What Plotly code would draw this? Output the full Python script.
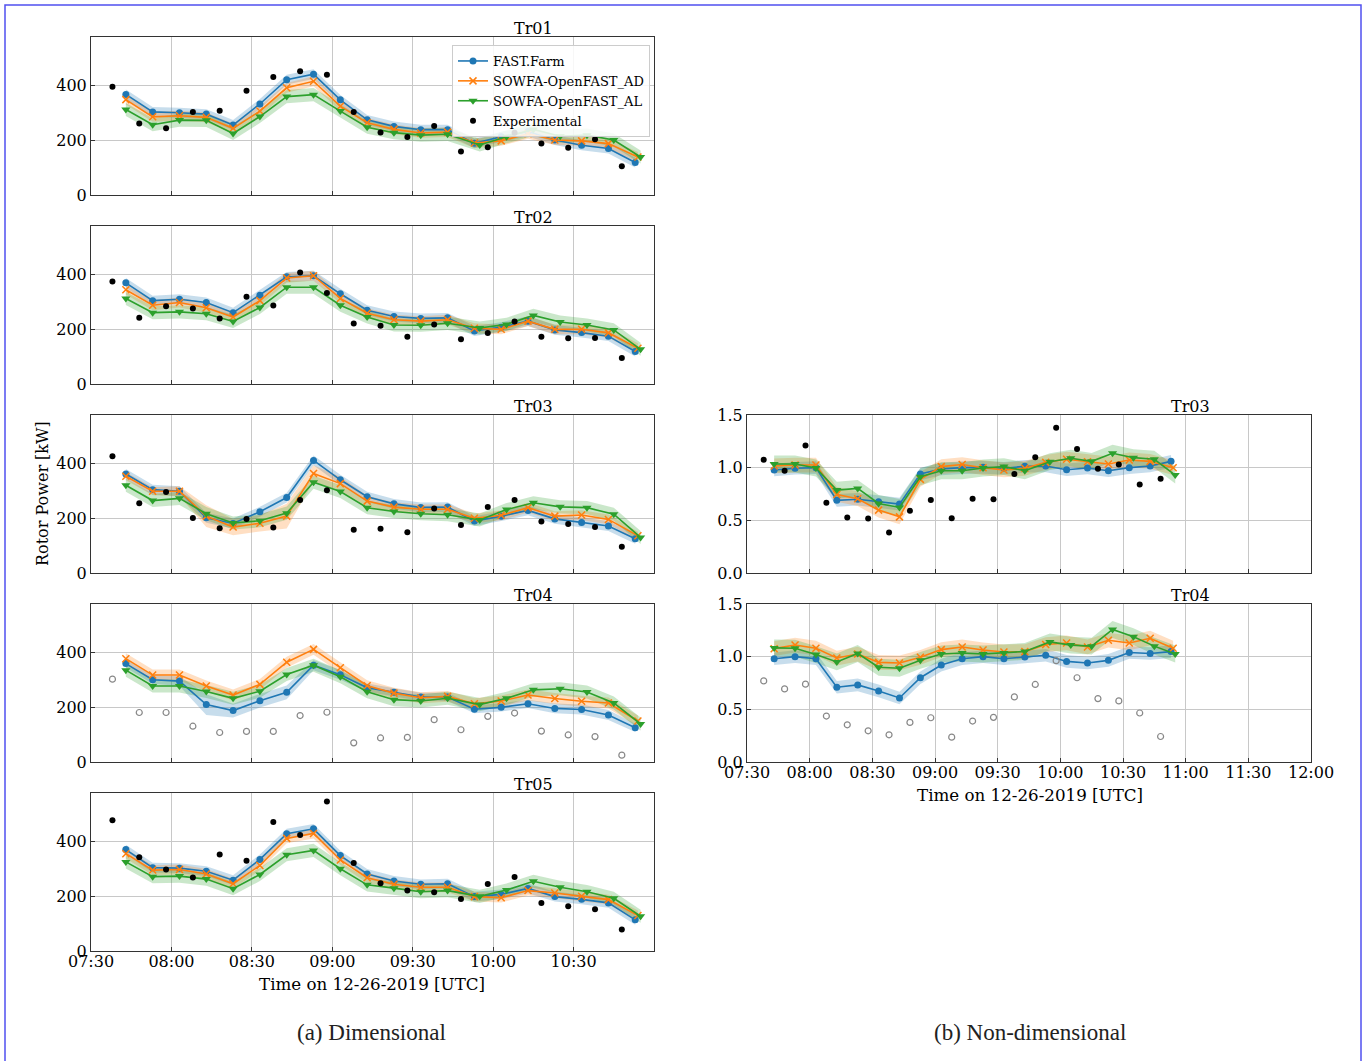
import plotly.graph_objects as go

# ---------------- data ----------------
DATE = "2019-12-26 "
model_times = ["07:43", "07:53", "08:03", "08:13", "08:23", "08:33", "08:43", "08:53", "09:03", "09:13",
               "09:23", "09:33", "09:43", "09:53", "10:03", "10:13", "10:23", "10:33", "10:43", "10:53"]
ad_times = ["07:43", "07:53", "08:03", "08:13", "08:23", "08:33", "08:43", "08:53", "09:03", "09:13",
            "09:23", "09:33", "09:43", "09:53", "10:03", "10:13", "10:23", "10:33", "10:43", "10:54"]
al_times = ["07:43", "07:53", "08:03", "08:13", "08:23", "08:33", "08:43", "08:53", "09:03", "09:13",
            "09:23", "09:33", "09:43", "09:55", "10:05", "10:15", "10:25", "10:35", "10:45", "10:55"]
exp_times = ["07:38", "07:48", "07:58", "08:08", "08:18", "08:28", "08:38", "08:48", "08:58", "09:08",
             "09:18", "09:28", "09:38", "09:48", "09:58", "10:08", "10:18", "10:28", "10:38", "10:48"]

# Dimensional rotor power [kW]
tr01_ff = [368, 304, 301, 296, 256, 333, 422, 442, 348, 275, 251, 239, 239, 189, 213, 232, 201, 182, 170, 119]
tr01_ad = [349, 286, 290, 284, 244, 307, 392, 416, 325, 264, 240, 227, 230, 190, 198, 224, 201, 198, 188, 139]
tr01_al = [313, 257, 274, 273, 225, 287, 360, 367, 307, 248, 228, 219, 222, 183, 213, 240, 215, 219, 201, 139]
tr01_exp = [396, 262, 244, 304, 308, 381, 432, 453, 440, 304, 229, 212, 252, 159, 175, 228, 188, 173, 204, 105]

tr02_ff = [370, 305, 310, 298, 261, 325, 392, 396, 330, 270, 247, 240, 242, 194, 208, 230, 198, 188, 175, 119]
tr02_ad = [345, 288, 298, 279, 245, 305, 388, 396, 313, 259, 235, 230, 235, 204, 200, 230, 200, 200, 187, 131]
tr02_al = [313, 261, 264, 257, 229, 280, 354, 354, 288, 245, 216, 215, 222, 205, 218, 251, 227, 216, 198, 127]
tr02_exp = [375, 242, 284, 276, 240, 319, 287, 408, 333, 221, 213, 173, 218, 164, 187, 229, 173, 167, 168, 95]

tr03_ff = [362, 305, 299, 202, 181, 224, 276, 412, 341, 279, 253, 240, 241, 190, 208, 229, 198, 185, 172, 125]
tr03_ad = [354, 299, 299, 208, 168, 182, 208, 364, 327, 263, 241, 233, 233, 200, 211, 239, 208, 212, 196, 136]
tr03_al = [321, 265, 273, 217, 183, 191, 219, 332, 298, 239, 225, 217, 213, 194, 232, 257, 242, 239, 215, 130]
tr03_exp = [427, 255, 296, 201, 164, 198, 166, 267, 303, 158, 162, 149, 236, 176, 241, 267, 188, 179, 168, 96]

tr04_ff = [360, 301, 296, 210, 188, 224, 255, 354, 319, 272, 255, 238, 238, 193, 200, 213, 196, 192, 172, 125]
tr04_ad = [378, 318, 318, 278, 245, 284, 365, 412, 345, 279, 252, 235, 240, 213, 223, 245, 232, 222, 216, 150]
tr04_al = [336, 278, 278, 258, 233, 259, 320, 354, 312, 257, 228, 223, 233, 210, 233, 264, 268, 256, 216, 139]
tr04_exp = [303, 181, 181, 131, 108, 112, 112, 170, 182, 70, 88, 90, 155, 118, 167, 179, 113, 99, 93, 25]

tr05_ff = [371, 305, 303, 292, 259, 335, 429, 447, 349, 282, 256, 244, 246, 199, 207, 229, 199, 189, 176, 114]
tr05_ad = [356, 296, 298, 282, 246, 313, 412, 430, 333, 268, 244, 233, 233, 199, 195, 221, 212, 200, 188, 130]
tr05_al = [326, 272, 274, 263, 228, 280, 352, 368, 301, 242, 230, 217, 221, 200, 223, 255, 233, 217, 193, 127]
tr05_exp = [478, 343, 298, 269, 353, 330, 472, 424, 547, 322, 248, 221, 215, 190, 245, 271, 176, 164, 153, 79]

# Non-dimensional
nd03_ff = [0.978, 0.994, 1.0, 0.69, 0.70, 0.676, 0.654, 0.94, 0.987, 1.0, 1.003, 0.994, 1.013, 1.016, 0.98,
           0.997, 0.971, 1.0, 1.016, 1.06]
nd03_ad = [1.016, 1.025, 1.025, 0.746, 0.705, 0.597, 0.533, 0.889, 1.01, 1.03, 1.0, 0.978, 0.994, 1.05, 1.08,
           1.057, 1.035, 1.073, 1.06, 1.0]
nd03_al = [1.035, 1.035, 0.997, 0.787, 0.803, 0.66, 0.622, 0.914, 0.971, 0.971, 0.997, 1.01, 0.971, 1.057, 1.09,
           1.06, 1.137, 1.095, 1.08, 0.93]
nd03_exp = [1.076, 0.971, 1.21, 0.667, 0.527, 0.517, 0.384, 0.59, 0.692, 0.52, 0.705, 0.70, 0.94, 1.098, 1.378,
            1.178, 0.99, 1.03, 0.84, 0.895]

nd04_ff = [0.98, 1.0, 0.98, 0.71, 0.732, 0.675, 0.608, 0.8, 0.92, 0.98, 1.0, 0.98, 0.997, 1.013, 0.955, 0.94,
           0.965, 1.04, 1.03, 1.048]
nd04_ad = [1.076, 1.11, 1.08, 0.987, 1.025, 0.946, 0.94, 0.994, 1.067, 1.092, 1.064, 1.045, 1.048, 1.115, 1.13,
           1.092, 1.156, 1.13, 1.175, 1.08]
nd04_al = [1.083, 1.08, 1.02, 0.95, 1.03, 0.9, 0.89, 0.965, 1.025, 1.035, 1.025, 1.035, 1.05, 1.14, 1.11, 1.1,
           1.258, 1.19, 1.1, 1.025]
nd04_exp = [0.77, 0.694, 0.739, 0.436, 0.353, 0.296, 0.258, 0.376, 0.42, 0.236, 0.389, 0.424, 0.618, 0.736, 0.962,
            0.8, 0.602, 0.58, 0.465, 0.242]

# band half-widths (ff, ad, al)
band_dim = [18, 18, 24]
band_tr03_ad = [15, 15, 18, 40, 30, 30, 45, 30, 25, 20, 18, 18, 18, 18, 18, 18, 18, 18, 18, 15]
band_tr04_ff = [15, 15, 18, 38, 25, 25, 25, 18, 18, 15, 15, 15, 15, 15, 15, 15, 18, 18, 18, 15]
band_nd = [0.06, 0.07, 0.08]

left_ticks = ["07:30", "08:00", "08:30", "09:00", "09:30", "10:00", "10:30"]
right_ticks = ["07:30", "08:00", "08:30", "09:00", "09:30", "10:00", "10:30", "11:00", "11:30", "12:00"]

series_names = ["FAST.Farm", "SOWFA-OpenFAST_AD", "SOWFA-OpenFAST_AL", "Experimental"]

# ---------------- layout helpers ----------------
W, H = 1368, 1061
FONT = "DejaVu Serif"
COLORS = ["#1f77b4", "#ff7f0e", "#2ca02c"]
FILLS = ["rgba(31,119,180,0.25)", "rgba(255,127,14,0.25)", "rgba(44,160,44,0.25)"]


def fx(p):
    return p / W


def fy(p):
    return 1 - p / H


def T(lst):
    return [DATE + t for t in lst]


fig = go.Figure()

left_tops = [37, 226, 415, 604, 793]
right_tops = [415, 604]
PH = 158

panels = [
    (1, "L", "Tr01", tr01_ff, tr01_ad, tr01_al, tr01_exp, band_dim, False),
    (2, "L", "Tr02", tr02_ff, tr02_ad, tr02_al, tr02_exp, band_dim, False),
    (3, "L", "Tr03", tr03_ff, tr03_ad, tr03_al, tr03_exp, [18, band_tr03_ad, 24], False),
    (4, "L", "Tr04", tr04_ff, tr04_ad, tr04_al, tr04_exp, [band_tr04_ff, 20, 24], True),
    (5, "L", "Tr05", tr05_ff, tr05_ad, tr05_al, tr05_exp, band_dim, False),
    (6, "R", "Tr03", nd03_ff, nd03_ad, nd03_al, nd03_exp, band_nd, False),
    (7, "R", "Tr04", nd04_ff, nd04_ad, nd04_al, nd04_exp, band_nd, True),
]

times_list = [model_times, ad_times, al_times]
markers = [
    dict(symbol="circle", size=7),
    dict(symbol="x-thin", size=7),
    dict(symbol="triangle-down", size=8),
]

annotations = []
for idx, side, title, ff, ad, al, exp, bands, exp_open in panels:
    xa = "x" if idx == 1 else f"x{idx}"
    ya = "y" if idx == 1 else f"y{idx}"
    vals = [ff, ad, al]
    for k in range(3):
        b = bands[k]
        bw = b if isinstance(b, list) else [b] * len(vals[k])
        up = [v + w for v, w in zip(vals[k], bw)]
        lo = [v - w for v, w in zip(vals[k], bw)]
        tt = T(times_list[k])
        fig.add_trace(go.Scatter(x=tt + tt[::-1], y=up + lo[::-1], fill="toself", fillcolor=FILLS[k],
                                 line=dict(width=0), mode="lines", hoverinfo="skip", showlegend=False,
                                 xaxis=xa, yaxis=ya))
    for k in range(3):
        mk = dict(markers[k], color=COLORS[k])
        if k == 1:
            mk["line"] = dict(color=COLORS[k], width=1.5)
        fig.add_trace(go.Scatter(x=T(times_list[k]), y=vals[k], mode="lines+markers",
                                 line=dict(color=COLORS[k], width=1.6), marker=mk,
                                 name=series_names[k], showlegend=(idx == 1), xaxis=xa, yaxis=ya))
    if exp_open:
        emk = dict(symbol="circle-open", size=6, color="#888888", line=dict(width=1.2, color="#888888"))
    else:
        emk = dict(symbol="circle", size=6, color="black")
    fig.add_trace(go.Scatter(x=T(exp_times), y=exp, mode="markers", marker=emk, name=series_names[3],
                             showlegend=(idx == 1), xaxis=xa, yaxis=ya))

    if side == "L":
        top = left_tops[idx - 1]
        xdom = [fx(91), fx(654)]
        xr = [DATE + "07:30", DATE + "11:00"]
        tv = T(left_ticks)
        tl = left_ticks
        showlab = idx == 5
        yr = [0, 578]
        ytv = [0, 200, 400]
        ytt = ["0", "200", "400"]
        tx = 533
    else:
        top = right_tops[idx - 6]
        xdom = [fx(747), fx(1311)]
        xr = [DATE + "07:30", DATE + "12:00"]
        tv = T(right_ticks)
        tl = right_ticks
        showlab = idx == 7
        yr = [0, 1.5]
        ytv = [0, 0.5, 1.0, 1.5]
        ytt = ["0.0", "0.5", "1.0", "1.5"]
        tx = 1190
    ydom = [fy(top + PH), fy(top)]
    axstyle = dict(showgrid=True, gridcolor="#c8c8c8", gridwidth=1, showline=True, linecolor="#333333",
                   linewidth=1, mirror=True, ticks="inside", ticklen=4, tickcolor="#333333", zeroline=False,
                   automargin=False, tickfont=dict(family=FONT, size=16, color="black"))
    fig.layout[xa.replace("x", "xaxis")] = dict(axstyle, domain=xdom, anchor=ya, type="date", range=xr,
                                                 tickvals=tv, ticktext=tl, showticklabels=showlab,
                                                 ticklabelstandoff=-4)
    fig.layout[ya.replace("y", "yaxis")] = dict(axstyle, domain=ydom, anchor=xa, range=yr,
                                                 tickvals=ytv, ticktext=ytt)
    annotations.append(dict(text=title, x=fx(tx), y=fy(top + 3), xref="paper", yref="paper",
                            xanchor="center", yanchor="bottom", showarrow=False,
                            font=dict(family=FONT, size=16, color="black")))

annotations += [
    dict(text="Rotor Power [kW]", x=fx(42), y=fy(494), xref="paper", yref="paper", textangle=-90,
         showarrow=False, xanchor="center", yanchor="middle", font=dict(family=FONT, size=16, color="black")),
    dict(text="Time on 12-26-2019 [UTC]", x=fx(372), y=fy(984), xref="paper", yref="paper", showarrow=False,
         xanchor="center", yanchor="middle", font=dict(family=FONT, size=16.7, color="black")),
    dict(text="Time on 12-26-2019 [UTC]", x=fx(1030), y=fy(795), xref="paper", yref="paper", showarrow=False,
         xanchor="center", yanchor="middle", font=dict(family=FONT, size=16.7, color="black")),
    dict(text="(a) Dimensional", x=fx(371), y=fy(1032), xref="paper", yref="paper", showarrow=False,
         xanchor="center", yanchor="middle", font=dict(family="Liberation Serif", size=23, color="#222")),
    dict(text="(b) Non-dimensional", x=fx(1030), y=fy(1032), xref="paper", yref="paper", showarrow=False,
         xanchor="center", yanchor="middle", font=dict(family="Liberation Serif", size=23, color="#222")),
]

fig.update_layout(
    width=W, height=H, autosize=False, margin=dict(l=0, r=0, t=0, b=0, pad=0, autoexpand=False),
    paper_bgcolor="white", plot_bgcolor="white",
    annotations=annotations,
    legend=dict(x=fx(452), y=fy(45), xanchor="left", yanchor="top", bgcolor="rgba(255,255,255,0.85)",
                bordercolor="#cccccc", borderwidth=1, font=dict(family=FONT, size=13, color="black"),
                itemwidth=30, tracegroupgap=0),
    shapes=[dict(type="rect", xref="paper", yref="paper", x0=fx(5), x1=fx(1361), y0=-0.01, y1=fy(5),
                 line=dict(color="#5050f0", width=1.5), fillcolor="rgba(0,0,0,0)")],
)

fig.write_html("out.html")
